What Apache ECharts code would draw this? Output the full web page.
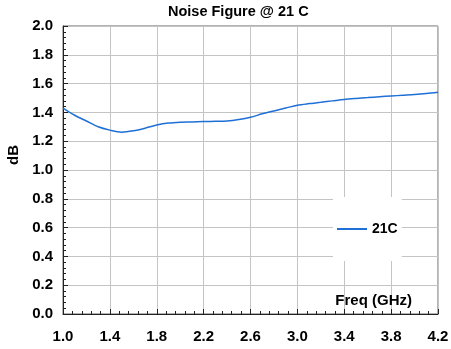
<!DOCTYPE html>
<html>
<head>
<meta charset="utf-8">
<script src="https://cdn.jsdelivr.net/npm/echarts@6/dist/echarts.min.js"></script>
<style>
  html, body { margin: 0; padding: 0; background: #fff; }
  #chart { width: 451px; height: 349px; }
</style>
</head>
<body>
<div id="chart"></div>
<script>
// noise figure vs frequency
const freqGHz = [1.0, 1.1, 1.2, 1.3, 1.4, 1.5, 1.6, 1.7, 1.8, 1.9, 2.0,
  2.1, 2.2, 2.3, 2.4, 2.5, 2.6, 2.7, 2.8, 2.9, 3.0,
  3.1, 3.2, 3.3, 3.4, 3.5, 3.6, 3.7, 3.8, 3.9, 4.0, 4.1, 4.2];
const nf21C = [1.43, 1.38, 1.34, 1.30, 1.277, 1.263, 1.272, 1.29, 1.312, 1.326, 1.332,
  1.334, 1.337, 1.338, 1.340, 1.350, 1.366, 1.390, 1.410, 1.430, 1.450,
  1.461, 1.470, 1.480, 1.490, 1.497, 1.503, 1.509, 1.514, 1.519, 1.524, 1.531, 1.540];
const xTicks = [1.0, 1.4, 1.8, 2.2, 2.6, 3.0, 3.4, 3.8, 4.2];

const font = 'Liberation Sans, Arial, sans-serif';
const lineColor = '#1f70d6';

const chart = echarts.init(document.getElementById('chart'));

const option = {
  animation: false,
  backgroundColor: '#fff',
  title: {
    text: 'Noise Figure @ 21 C',
    left: 168,
    top: 4,
    padding: 0,
    textStyle: { color: '#000', fontSize: 14.5, fontWeight: 'bold', fontFamily: font },
  },
  legend: {
    data: ['21C'],
    left: 333,
    top: 197,
    padding: [25, 4, 25, 4],
    backgroundColor: '#fff',
    icon: 'rect',
    itemWidth: 30,
    itemHeight: 2,
    textStyle: { color: '#000', fontSize: 14, fontWeight: 'bold', fontFamily: font },
  },
  grid: {
    left: 63,
    right: 13,
    top: 26,
    bottom: 35,
    outerBoundsMode: 'none',
    show: true,
    borderColor: '#666',
    borderWidth: 1,
  },
  xAxis: [
    {
      type: 'value',
      min: 1.0,
      max: 4.2,
      name: 'Freq (GHz)',
      nameLocation: 'end',
      nameGap: -26,
      nameTextStyle: {
        color: '#000', fontSize: 15, fontWeight: 'bold', fontFamily: font,
        align: 'right', verticalAlign: 'bottom', padding: [0, 0, 6, 0],
      },
      axisLine: { lineStyle: { color: '#222', width: 1 } },
      axisTick: { inside: true, length: 5, customValues: xTicks, lineStyle: { color: '#222' } },
      axisLabel: {
        customValues: xTicks,
        margin: 15,
        color: '#000', fontSize: 15, fontWeight: 'bold', fontFamily: font,
        formatter: (v) => v.toFixed(1),
      },
      splitLine: { show: true, lineStyle: { color: '#c4c4c4', width: 1 } },
    },
    {
      // minor tick marks only (every 0.08 GHz)
      type: 'value',
      position: 'bottom',
      min: 0,
      max: 3.2,
      interval: 0.08,
      axisLine: { show: false },
      axisTick: { inside: true, length: 3, lineStyle: { color: '#222' } },
      axisLabel: { show: false },
      splitLine: { show: false },
    },
  ],
  yAxis: {
    type: 'value',
    min: 0,
    max: 2.0,
    interval: 0.2,
    name: 'dB',
    nameLocation: 'middle',
    nameGap: 40,
    nameTextStyle: {
      color: '#000', fontSize: 15, fontWeight: 'bold', fontFamily: font,
      padding: [0, 0, 0, 30],
    },
    axisLine: { show: true, lineStyle: { color: '#222', width: 1 } },
    axisTick: { inside: true, length: 5, lineStyle: { color: '#222' } },
    minorTick: { show: true, splitNumber: 5, length: 3, lineStyle: { color: '#222' } },
    axisLabel: {
      margin: 10,
      color: '#000', fontSize: 15, fontWeight: 'bold', fontFamily: font,
      formatter: (v) => v.toFixed(1),
    },
    splitLine: { show: true, lineStyle: { color: '#c4c4c4', width: 1 } },
  },
  series: [
    {
      name: '21C',
      type: 'line',
      xAxisIndex: 0,
      data: freqGHz.map((f, i) => [f, nf21C[i]]),
      symbol: 'none',
      smooth: 0.3,
      lineStyle: { color: lineColor, width: 1.5 },
      itemStyle: { color: lineColor },
    },
  ],
};

chart.setOption(option);
</script>
</body>
</html>
